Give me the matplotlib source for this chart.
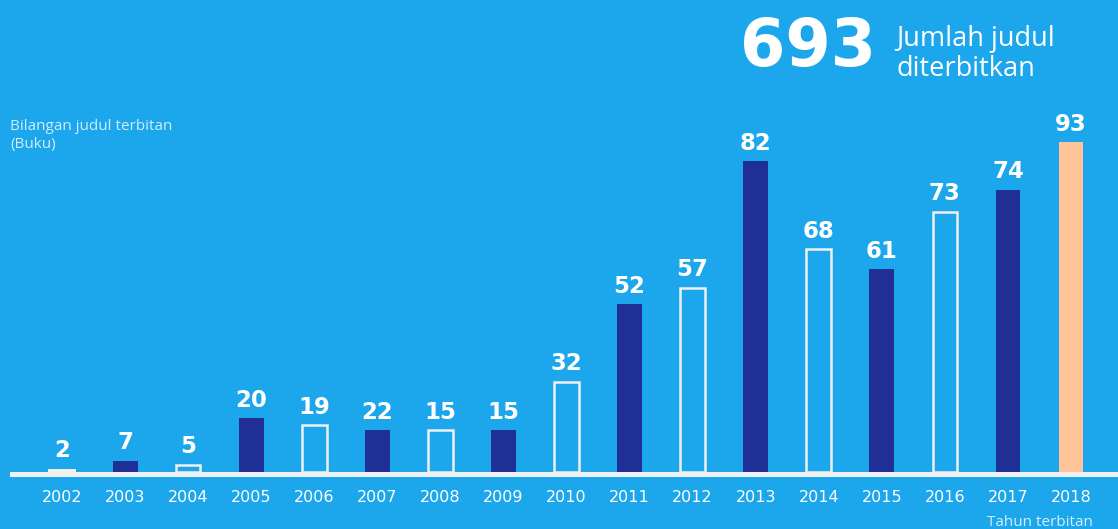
import matplotlib
matplotlib.use("Agg")
import matplotlib.pyplot as plt

years = ["2002", "2003", "2004", "2005", "2006", "2007", "2008", "2009", "2010",
         "2011", "2012", "2013", "2014", "2015", "2016", "2017", "2018"]
# labelled values (numbers printed above the bars)
values = [2, 7, 5, 20, 19, 22, 15, 15, 32, 52, 57, 82, 68, 61, 73, 74, 93]
# bar heights as drawn in the infographic (not strictly proportional), same units
drawn_heights = [0.85, 3.1, 2.0, 15.2, 13.2, 11.8, 11.8, 11.8, 25.4, 47.3, 51.9,
                 87.6, 62.8, 57.2, 73.3, 79.5, 93.0]
styles = ["white", "dark", "outline", "dark", "outline", "dark", "outline", "dark", "outline",
          "dark", "outline", "dark", "outline", "dark", "outline", "dark", "peach"]
total_label = "693"
total_text = "Jumlah judul\nditerbitkan"
y_title = "Bilangan judul terbitan\n(Buku)"
x_title = "Tahun terbitan"

BG = "#1ca6ec"
DARK = "#202f96"
WHITE = "#f0f0f0"
PEACH = "#ffc399"
LIGHT = "#cfeefd"

W, H = 1118, 529
PXU = 3.548  # pixels per unit
fig = plt.figure(figsize=(W / 100, H / 100), dpi=100, facecolor=BG)
ax = fig.add_axes([10 / W, (H - 477) / H, 1 - 10 / W, 360 / H])
ax.set_facecolor(BG)
ax.set_xlim(-0.825, 16.745)
ax.set_ylim(-5 / PXU, 355 / PXU)
for s in ax.spines.values():
    s.set_visible(False)
ax.set_yticks([])

x = list(range(len(years)))
bw = 0.395
for xi, v, h, st in zip(x, values, drawn_heights, styles):
    if st == "dark":
        ax.bar(xi, h, width=bw, color=DARK, zorder=2)
    elif st == "peach":
        ax.bar(xi, h, width=bw, color=PEACH, zorder=2)
    elif st == "white":
        ax.bar(xi, h, width=0.43, color=WHITE, zorder=2)
    else:
        ax.bar(xi, h, width=0.39, facecolor="none", edgecolor=WHITE, linewidth=1.8, zorder=2)
    ax.annotate(str(v), xy=(xi, h), xytext=(0, 8.3), textcoords="offset points",
                ha="center", va="baseline", color="white",
                fontsize=16.5, fontweight="bold", family="DejaVu Sans", zorder=3)

ax.axhspan(-5 / PXU, 0, color=WHITE, zorder=4, lw=0)
ax.set_xticks(x)
ax.set_xticklabels(years, color="white", fontsize=11.5, family="DejaVu Sans")
ax.tick_params(axis="x", length=0, pad=9)

fig.text(10 / W, 1 - 119 / H, y_title, color=LIGHT, fontsize=11, family="Open Sans",
         ha="left", va="top", linespacing=1.3)
fig.text(1093 / W, 1 - 522 / H, x_title, color=LIGHT, fontsize=11, family="Open Sans",
         ha="right", va="center")
fig.text(740 / W, 1 - 48 / H, total_label, color="white", fontsize=47, fontweight="bold",
         family="DejaVu Sans", ha="left", va="center")
fig.text(896 / W, 1 - 54 / H, total_text, color="white", fontsize=19.5, family="Open Sans",
         ha="left", va="center", linespacing=1.1)

fig.savefig("out.png", dpi=100, facecolor=BG)
